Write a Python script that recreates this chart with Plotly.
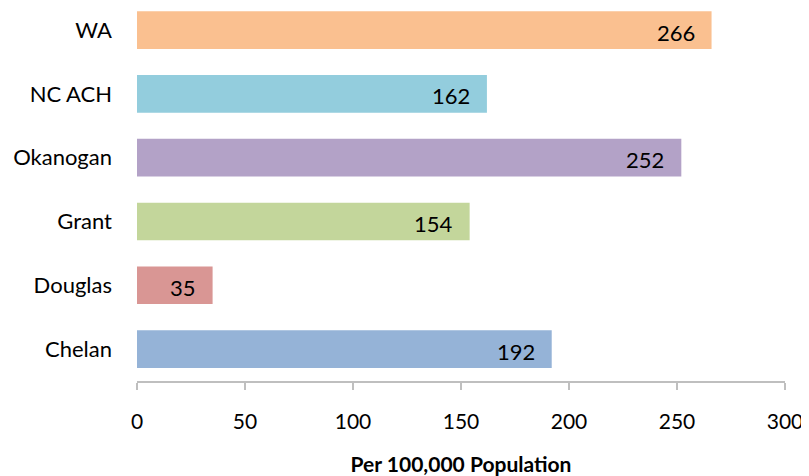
import plotly.graph_objects as go

categories = ["Chelan", "Douglas", "Grant", "Okanogan", "NC ACH", "WA"]
values = [192, 35, 154, 252, 162, 266]
colors = ["#95B3D7", "#D99694", "#C3D69B", "#B3A2C7", "#93CDDD", "#FAC090"]
x_ticks = [0, 50, 100, 150, 200, 250, 300]
x_title = "Per 100,000 Population"

FONT = "Lato"

fig = go.Figure()
fig.add_trace(go.Bar(
    y=categories, x=values, orientation="h",
    marker=dict(color=colors, line=dict(width=0)),
    hoverinfo="x+y",
))

for c, v in zip(categories, values):
    fig.add_annotation(x=v, y=c, text=str(v), showarrow=False,
                       xanchor="right", xshift=-15, yshift=-2,
                       font=dict(family=FONT, size=22, color="#000000"))

fig.update_layout(
    width=801, height=468,
    margin=dict(l=129, r=24, t=0, b=95),
    paper_bgcolor="white", plot_bgcolor="white",
    bargap=0.41,
    showlegend=False,
    xaxis=dict(
        range=[0, 300], tickvals=x_ticks, ticktext=[str(t) for t in x_ticks],
        showgrid=False, zeroline=False,
        showline=True, linecolor="#BFBFBF", linewidth=1.5,
        ticks="outside", ticklen=7, tickcolor="#BFBFBF", tickwidth=1.5,
        ticklabelstandoff=14,
        tickfont=dict(family=FONT, size=21, color="#000000"),
        title=dict(text="<b>" + x_title + "</b>", standoff=26,
                   font=dict(family=FONT, size=21, color="#000000")),
    ),
    yaxis=dict(
        categoryorder="array", categoryarray=categories,
        range=[-0.5, 5.346],
        showgrid=False, zeroline=False, showline=False,
        ticks="", ticklabelstandoff=24,
        tickfont=dict(family=FONT, size=22, color="#000000"),
    ),
)

fig.write_html("out.html")
